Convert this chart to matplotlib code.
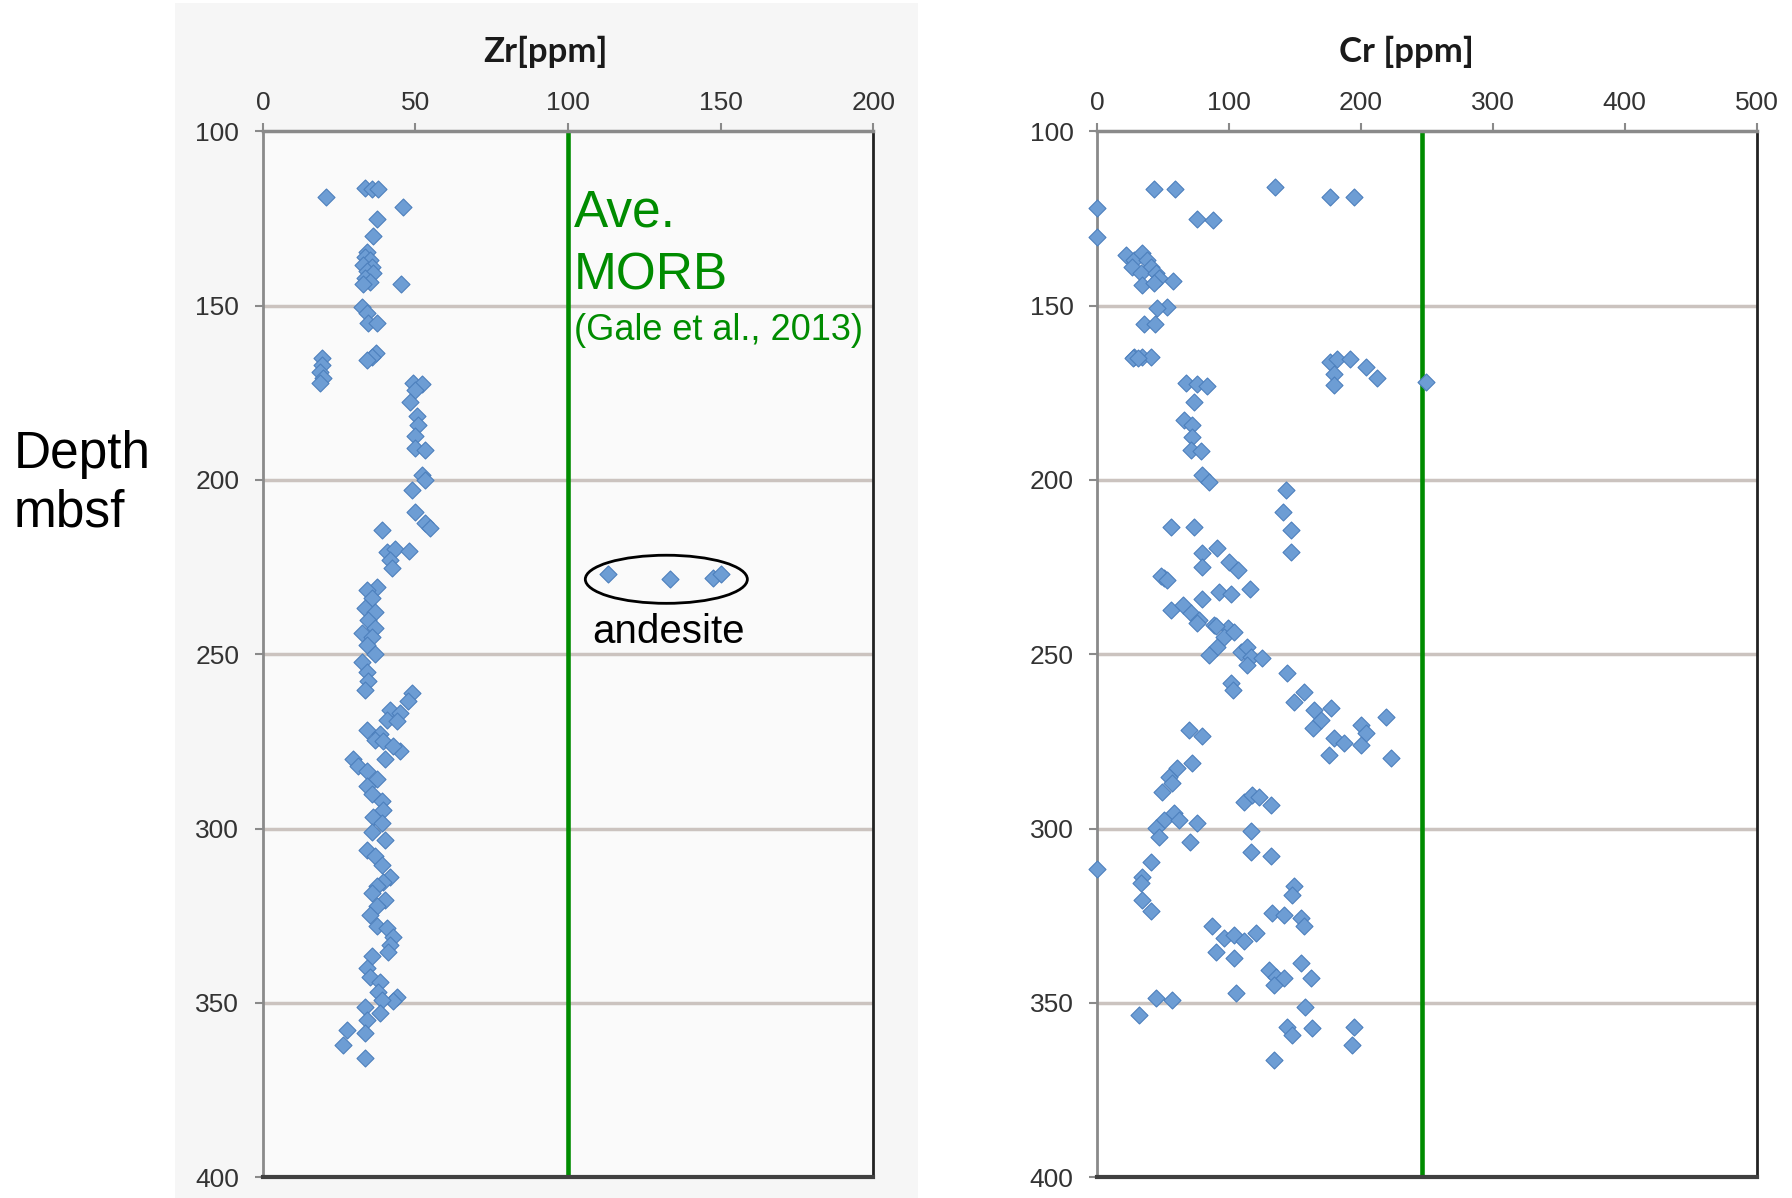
import matplotlib.pyplot as plt
from matplotlib.patches import Ellipse, Rectangle

# Zr panel: depth [mbsf] and Zr [ppm]
zr_depth = [
    116.3, 116.6, 116.6, 118.9, 121.8, 125.2, 130.0,
    134.5, 135.9, 136.9, 138.3, 138.8, 140.2, 140.7, 142.1, 143.1, 143.8, 143.8,
    150.3, 152.2, 155.1, 155.1, 163.7, 164.6, 165.6,
    165.1, 167.0, 168.9, 170.8, 172.3,
    172.1, 172.5, 174.2, 177.5, 181.8, 184.2, 187.5, 190.9, 191.4, 198.6, 200.0,
    202.9, 209.1, 212.4, 213.9, 214.3, 220.6, 219.9, 220.3, 222.9, 225.3,
    230.6, 231.6, 234.0, 236.8, 237.8, 240.2, 242.6, 244.0, 245.0, 247.3, 249.8,
    252.1, 255.0, 257.8, 260.2,
    261.1, 263.5, 265.9, 266.8, 268.8, 269.2, 271.6, 273.0, 274.5, 275.0, 277.8,
    276.4, 280.2, 280.2, 282.1, 283.5, 285.9, 287.8, 290.2, 292.1,
    294.7, 296.6, 298.5, 300.9, 303.3, 306.1, 308.0, 310.4, 313.8, 315.2, 316.6,
    318.5, 320.4, 322.3, 324.8, 328.1, 328.6, 331.0, 333.4, 335.3, 336.7, 340.1,
    342.5, 343.9, 346.8, 348.2, 349.6, 349.2, 351.1, 352.9, 354.8, 357.7, 358.6,
    362.1, 365.9,
]
zr_ppm = [
    33.5, 35.6, 37.8, 20.7, 45.8, 37.5, 36.0,
    34.0, 33.5, 35.1, 32.9, 35.6, 34.0, 36.2, 33.5, 35.1, 32.9, 45.2,
    32.4, 34.0, 34.6, 37.3, 37.1, 35.6, 34.0,
    19.3, 19.3, 18.7, 19.8, 18.7,
    49.3, 52.0, 49.8, 48.2, 50.4, 50.9, 49.8, 49.8, 53.1, 52.0, 53.1,
    48.8, 49.8, 53.1, 54.8, 38.9, 40.6, 43.3, 48.0, 41.7, 42.2,
    37.3, 34.0, 35.6, 33.5, 36.7, 34.6, 36.7, 32.4, 35.6, 34.0, 36.7,
    32.4, 34.0, 34.6, 33.5,
    48.8, 47.7, 41.7, 44.9, 40.6, 43.8, 34.0, 38.4, 36.7, 39.5, 44.9,
    42.7, 40.0, 29.6, 31.3, 34.0, 37.3, 34.0, 35.6, 38.9,
    39.5, 36.2, 38.9, 35.6, 40.0, 34.0, 36.7, 38.9, 41.7, 39.5, 37.3,
    35.6, 40.0, 37.3, 35.1, 37.3, 40.6, 42.7, 41.7, 41.1, 35.6, 34.0,
    35.1, 38.4, 37.8, 43.8, 42.7, 38.9, 33.5, 38.4, 34.0, 27.5, 33.5,
    26.4, 33.5,
]
andesite_depth = [226.9, 228.5, 228.2, 226.9]
andesite_zr = [113.1, 133.3, 147.6, 150.2]

# Cr panel: depth [mbsf] and Cr [ppm]
cr_depth = [
    116.6, 116.6, 116.0, 118.9, 118.9, 122.1, 125.2, 125.4, 130.2,
    135.5, 136.9, 135.0, 137.0, 138.8, 138.8, 140.7, 140.7, 142.0, 144.0, 143.5, 142.8,
    150.3, 150.8, 155.2, 155.2, 164.6, 164.6, 164.6, 165.0, 165.0,
    166.1, 165.4, 165.4, 167.7, 170.8, 169.7, 172.7, 171.8,
    172.3, 172.5, 173.0, 177.5, 182.8, 184.2, 187.6, 191.4, 191.8, 198.6, 200.5,
    202.9, 209.1, 214.3, 220.6, 213.4, 213.6, 221.0, 219.6, 223.4, 225.8, 225.0,
    228.2, 227.7, 228.8, 234.2, 232.1, 232.6, 231.2,
    237.3, 235.9, 238.3, 240.2, 241.6, 242.5, 241.1, 242.0, 245.0, 243.6, 247.8,
    250.2, 249.3, 247.8, 250.7, 253.1, 251.2, 258.3, 260.2, 255.5, 260.7, 263.6,
    266.0, 265.5, 271.2, 268.9, 270.3, 272.7, 267.9, 276.0, 274.1, 275.5, 278.9,
    279.8, 271.7, 273.6, 281.3, 282.7, 285.1, 289.4, 287.0, 292.3, 290.4, 290.9,
    293.2, 295.6, 297.5, 299.9, 302.3, 297.5, 298.4, 303.8, 300.8, 306.6, 308.0,
    311.7, 309.5, 313.8, 315.7, 320.5, 323.8, 316.6, 319.0, 324.3, 324.7, 325.7,
    328.0, 327.9, 331.5, 330.5, 332.4, 330.0, 335.3, 337.2, 340.6, 342.5, 343.0,
    344.9, 338.7, 343.0, 347.3, 351.1, 348.6, 349.1, 353.4, 356.8, 359.2, 357.3,
    356.8, 362.1, 366.4,
]
cr_ppm = [
    43.2, 59.1, 134.7, 176.6, 194.8, 0.0, 76.0, 88.2, 0.0,
    21.7, 28.0, 34.4, 38.0, 26.8, 40.7, 33.0, 44.5, 47.0, 34.4, 43.0, 57.9,
    53.3, 45.2, 35.6, 43.7, 28.0, 34.4, 40.7, 27.0, 31.0,
    176.6, 182.0, 191.6, 203.7, 212.0, 180.0, 180.0, 249.6,
    67.2, 76.0, 83.7, 73.5, 65.9, 72.2, 72.2, 71.0, 78.6, 79.9, 85.0,
    143.0, 141.3, 146.8, 147.4, 56.4, 73.5, 79.9, 91.2, 100.0, 106.6, 79.4,
    50.8, 48.3, 52.8, 79.9, 92.5, 101.3, 116.0,
    56.4, 65.0, 71.0, 77.4, 89.0, 99.0, 76.0, 89.9, 96.3, 103.9, 91.2,
    85.0, 109.0, 114.0, 116.5, 114.0, 125.3, 101.3, 103.4, 144.3, 157.0, 149.4,
    164.6, 177.3, 163.4, 169.7, 200.0, 203.7, 218.9, 200.0, 179.7, 187.3, 175.9,
    222.7, 69.7, 79.9, 72.3, 60.9, 54.6, 49.5, 57.0, 111.4, 117.8, 122.8,
    131.7, 58.4, 50.8, 44.5, 47.0, 62.2, 76.0, 70.4, 116.5, 116.5, 131.7,
    0.3, 40.7, 34.4, 33.1, 34.4, 40.7, 149.4, 148.0, 132.9, 141.8, 154.4,
    156.9, 87.4, 96.3, 103.9, 111.4, 120.3, 89.9, 103.9, 130.4, 135.4, 141.8,
    134.2, 154.4, 162.0, 105.1, 158.0, 44.5, 57.1, 31.8, 144.3, 148.0, 163.3,
    194.8, 193.6, 134.2,
]

morb_zr = 100
morb_cr = 246
depth_ticks = [100, 150, 200, 250, 300, 350, 400]

face = "#6d9dd4"
edge = "#4d80bd"
green = "#008c00"
arial = ["Liberation Sans", "DejaVu Sans"]

fig = plt.figure(figsize=(17.92, 11.98), dpi=100)
fig.patches.append(Rectangle((0.0977, 0.0), 0.4146, 0.9975, transform=fig.transFigure,
                             facecolor="#f6f6f6", edgecolor="none", zorder=-10))

ax1 = fig.add_axes([0.1467, 0.01745, 0.3406, 0.8729])
ax2 = fig.add_axes([0.6122, 0.01745, 0.3680, 0.8729])


def style_axis(ax, xmax, xstep):
    ax.set_xlim(0, xmax)
    ax.set_ylim(400, 100)
    ax.xaxis.tick_top()
    ax.set_xticks(range(0, xmax + 1, xstep))
    ax.set_yticks(depth_ticks)
    ax.tick_params(axis="both", length=6, width=1.5, color="#8a8a8a",
                   labelsize=19, labelcolor="#333333")
    ax.tick_params(axis="x", pad=6)
    ax.tick_params(axis="y", pad=11)
    for lab in ax.get_xticklabels() + ax.get_yticklabels():
        lab.set_family(arial)
    for d in depth_ticks[1:-1]:
        ax.axhline(d, color="#cbc3bf", lw=2.5, zorder=0)
    ax.spines["top"].set_color("#8a8a8a")
    ax.spines["left"].set_color("#8a8a8a")
    ax.spines["right"].set_color("#222222")
    ax.spines["bottom"].set_color("#404040")
    ax.spines["top"].set_linewidth(2.5)
    ax.spines["left"].set_linewidth(2)
    ax.spines["right"].set_linewidth(2)
    ax.spines["bottom"].set_linewidth(3)


style_axis(ax1, 200, 50)
style_axis(ax2, 500, 100)
ax1.set_facecolor("#fafafa")
ax2.set_facecolor("white")

fig.text(545 / 1792, 0.957, "Zr[ppm]", family=["Lato", "DejaVu Sans"],
         fontweight="bold", fontsize=25, color="#1a1a1a", ha="center", va="center")
fig.text(1406 / 1792, 0.957, "Cr [ppm]", family=["Lato", "DejaVu Sans"],
         fontweight="bold", fontsize=25, color="#1a1a1a", ha="center", va="center")

ax1.axvline(morb_zr, color=green, lw=3.3, zorder=2)
ax2.axvline(morb_cr, color=green, lw=3.3, zorder=2)

ax1.scatter(zr_ppm, zr_depth, marker="D", s=75, c=face, edgecolors=edge,
            linewidths=0.8, zorder=3)
ax1.scatter(andesite_zr, andesite_depth, marker="D", s=75, c=face, edgecolors=edge,
            linewidths=0.8, zorder=3)
ax2.scatter(cr_ppm, cr_depth, marker="D", s=75, c=face, edgecolors=edge,
            linewidths=0.8, zorder=3, clip_on=False)

# annotations
ax1.text(102, 123.5, "Ave.", color=green, fontsize=37, family=arial, va="center")
ax1.text(102, 141.5, "MORB", color=green, fontsize=37, family=arial, va="center")
ax1.text(102, 157.0, "(Gale et al., 2013)", color=green, fontsize=26, family=arial,
         va="center")
ax1.add_patch(Ellipse((132.2, 228.5), 53.1, 13.8, fill=False, edgecolor="black",
                      lw=2, zorder=4))
ax1.text(133, 243.5, "andesite", color="black", fontsize=29, family=arial,
         ha="center", va="center")

fig.text(14 / 1792, 1 - 484 / 1198, "Depth\nmbsf", fontsize=37, family=arial,
         ha="left", va="center", linespacing=1.25)

fig.savefig("out.png", dpi=100)
